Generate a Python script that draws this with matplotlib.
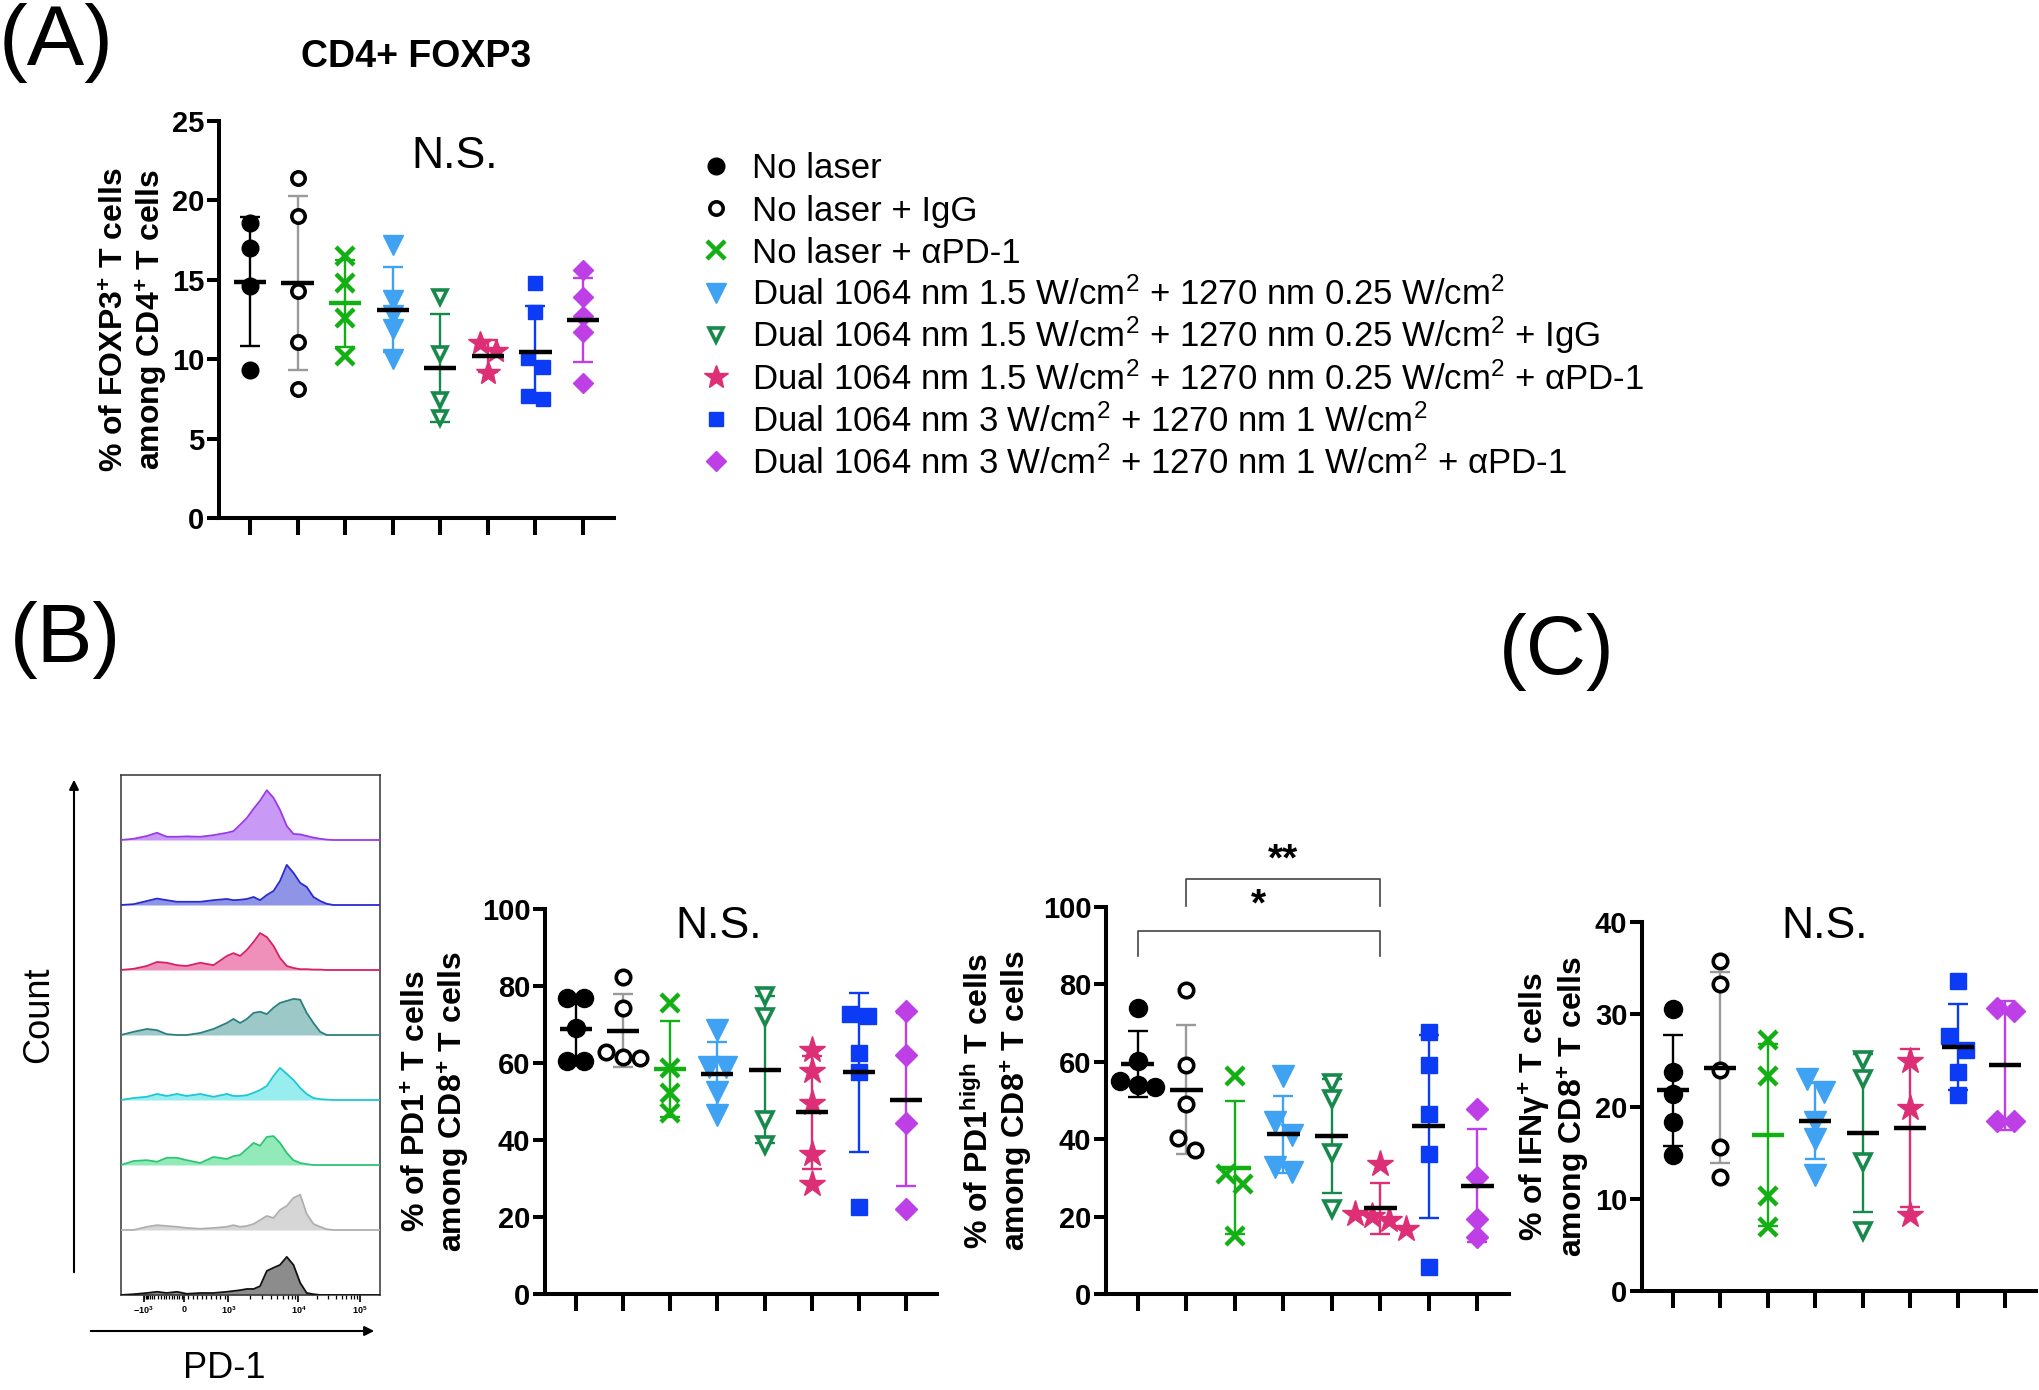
import numpy as np
import matplotlib.pyplot as plt
from matplotlib.lines import Line2D

plt.rcParams['font.family'] = ['Liberation Sans', 'DejaVu Sans']
plt.rcParams['mathtext.fontset'] = 'custom'
plt.rcParams['mathtext.rm'] = 'Liberation Sans'
plt.rcParams['mathtext.bf'] = 'Liberation Sans:bold'
plt.rcParams['mathtext.it'] = 'Liberation Sans:italic'
plt.rcParams['mathtext.default'] = 'regular'

W, H = 2040, 1390

# groups / styles
group_labels = [
    'No laser',
    'No laser + IgG',
    'No laser + αPD-1',
    'Dual 1064 nm 1.5 W/cm$^2$ + 1270 nm 0.25 W/cm$^2$',
    'Dual 1064 nm 1.5 W/cm$^2$ + 1270 nm 0.25 W/cm$^2$ + IgG',
    'Dual 1064 nm 1.5 W/cm$^2$ + 1270 nm 0.25 W/cm$^2$ + αPD-1',
    'Dual 1064 nm 3 W/cm$^2$ + 1270 nm 1 W/cm$^2$',
    'Dual 1064 nm 3 W/cm$^2$ + 1270 nm 1 W/cm$^2$ + αPD-1',
]
colors = ['#000000', '#000000', '#12B012', '#3FA2F2', '#17894B', '#DD2F75', '#0B3BF5', '#BE3FE6']
bar_colors = ['#000000', '#9A9A9A', '#12B012', '#3FA2F2', '#17894B', '#DD2F75', '#0B3BF5', '#BE3FE6']
mean_colors = ['#000000', '#000000', '#12B012', '#000000', '#000000', '#000000', '#000000', '#000000']
markers = ['o', 'o', 'x', 'v', 'v', '*', 's', 'D']
filled = [True, False, True, True, False, True, True, True]
ms_scale = [1.0, 0.8, 1.05, 1.2, 0.85, 1.5, 0.85, 0.85]

# (A) % FOXP3+ among CD4+
foxp3 = [
    [18.6, 17.0, 14.6, 9.3],
    [21.4, 19.0, 14.3, 11.1, 8.1],
    [16.5, 14.8, 12.6, 10.2],
    [17.2, 13.7, 12.8, 11.9, 10.0],
    [13.9, 10.3, 7.4, 6.3],
    [11.0, 10.5, 9.1],
    [14.8, 13.0, 10.1, 9.5, 7.7, 7.5],
    [15.6, 13.9, 12.7, 11.7, 8.5],
]
# (B) % PD1+ among CD8+
pd1 = [
    [77.0, 77.0, 69.0, 60.5, 60.5],
    [82.3, 74.2, 62.8, 61.5, 61.2],
    [75.6, 58.8, 52.3, 47.1],
    [68.5, 59.0, 59.0, 52.5, 46.5],
    [77.3, 72.0, 45.2, 38.7],
    [63.4, 57.9, 49.7, 36.3, 28.5],
    [72.6, 72.3, 62.7, 57.6, 22.5],
    [73.6, 62.1, 44.3, 22.0],
]
# (B) % PD1high among CD8+
pd1high = [
    [73.8, 60.3, 55.0, 54.0, 53.5],
    [78.6, 59.3, 49.0, 40.2, 37.1],
    [56.3, 30.9, 28.3, 15.1],
    [56.3, 44.5, 41.0, 32.8, 31.5],
    [54.5, 50.5, 36.5, 22.0],
    [33.7, 20.7, 20.2, 19.0, 16.9],
    [67.8, 59.1, 46.6, 36.1, 6.9],
    [47.7, 30.2, 19.4, 14.7],
]
# (C) % IFNg+ among CD8+
ifng = [
    [30.6, 23.7, 21.4, 18.3, 14.7],
    [35.8, 33.3, 24.0, 15.6, 12.4],
    [27.2, 23.3, 10.3, 6.9],
    [23.0, 21.6, 18.3, 16.5, 12.6],
    [25.0, 23.0, 14.0, 6.5],
    [24.9, 19.8, 8.2],
    [33.6, 27.6, 26.1, 23.7, 21.3],
    [30.7, 30.3, 18.4, 18.4],
]

# PD-1 histograms (top to bottom), x in % of plot width, heights in % of lane
hist_x = [0, 4.9, 10.0, 13.9, 17.7, 21.6, 25.4, 30.6, 35.7, 40.9, 43.4, 46.0, 48.6, 51.2,
          53.7, 56.3, 58.9, 61.4, 64.0, 66.6, 69.2, 71.7, 74.3, 76.9, 79.4, 82.0, 100]
hist_counts = [
    [0, 3, 10, 18, 8, 8, 9, 8, 12, 18, 22, 38, 55, 78, 98, 124, 105, 75, 35, 15, 14, 10, 6, 3, 1, 0, 0],
    [0, 2, 10, 16, 12, 8, 8, 8, 12, 15, 12, 13, 15, 20, 12, 25, 35, 60, 100, 80, 55, 45, 20, 10, 3, 0, 0],
    [0, 3, 10, 20, 18, 12, 10, 18, 12, 35, 42, 35, 50, 70, 92, 82, 60, 30, 10, 5, 2, 2, 1, 1, 0, 0, 0],
    [0, 8, 15, 12, 2, 0, 0, 5, 15, 30, 40, 30, 40, 55, 58, 52, 68, 80, 85, 90, 88, 55, 30, 8, 0, 0, 0],
    [0, 5, 8, 15, 10, 15, 10, 15, 8, 15, 10, 10, 12, 18, 25, 35, 60, 80, 65, 50, 30, 15, 5, 2, 1, 0, 0],
    [0, 10, 12, 8, 18, 18, 12, 5, 20, 15, 22, 25, 40, 55, 48, 70, 72, 55, 30, 12, 5, 2, 0, 0, 0, 0, 0],
    [0, 0, 8, 12, 10, 8, 5, 3, 5, 8, 12, 8, 10, 15, 25, 35, 30, 50, 60, 80, 88, 40, 15, 8, 2, 0, 0],
    [0, 2, 5, 8, 5, 8, 3, 5, 5, 8, 10, 12, 15, 15, 22, 60, 68, 75, 95, 75, 30, 5, 2, 0, 0, 0, 0],
]
hist_fill = ['#C89AF6', '#9094E6', '#EE90BA', '#9CC9C8', '#98EDEE', '#93EAB9', '#D6D6D6', '#8C8C8C']
hist_edge = ['#9A3AE6', '#2A2ACF', '#D62068', '#2A7F7F', '#1CC8D2', '#2EC474', '#AFAFAF', '#111111']
hist_tick_pos = [8.7, 24.4, 41.5, 68.5, 92.3]
hist_tick_lab = ['$-10^3$', '0', '$10^3$', '$10^4$', '$10^5$']


def fx(x):
    return x / W


def fy(y):
    return 1 - y / H


def marker_style(i, ms):
    return dict(marker=markers[i], ms=ms * ms_scale[i],
                mfc=colors[i] if filled[i] else 'white', mec=colors[i],
                mew=3.2 if markers[i] == 'x' else (2.6 if not filled[i] else 1))


def swarm(vals, ypx, xpx, dpx):
    order = np.argsort(-vals)
    offs = np.zeros(len(vals))
    rows = []
    for k in order:
        if rows and (vals[rows[-1][-1]] - vals[k]) * ypx < 0.8 * dpx:
            rows[-1].append(k)
        else:
            rows.append([k])
    for row in rows:
        n = len(row)
        for j, k in enumerate(row):
            offs[k] = (j - (n - 1) / 2) * 0.95 * dpx / xpx
    return offs


def dot_panel(ax, data, ymax, ystep, ms, ylabel, label_x):
    xlim = (-0.65, 7.65)
    pos = ax.get_position()
    ypx = pos.height * H / ymax
    xpx = pos.width * W / (xlim[1] - xlim[0])
    for i, vals in enumerate(data):
        vals = np.array(vals)
        m = vals.mean()
        sd = vals.std(ddof=1)
        ax.errorbar(i, m, yerr=sd, fmt='none', ecolor=bar_colors[i], elinewidth=1.7,
                    capsize=7.5, capthick=1.7, zorder=2, clip_on=False)
        offs = swarm(vals, ypx, xpx, ms * 100 / 72)
        ax.plot(i + offs, vals, linestyle='none', zorder=3, clip_on=False,
                **marker_style(i, ms))
        ax.plot([i - 0.34, i + 0.34], [m, m], color=mean_colors[i], lw=3.2,
                solid_capstyle='butt', zorder=4)
    ax.set_xlim(*xlim)
    ax.set_ylim(0, ymax)
    ax.set_xticks(range(8))
    ax.set_xticklabels([])
    ax.set_yticks(np.arange(0, ymax + 0.1, ystep))
    ax.spines[['top', 'right']].set_visible(False)
    for s in ['left', 'bottom']:
        ax.spines[s].set_linewidth(2.9)
    ax.tick_params(axis='x', length=12, width=2.9)
    ax.tick_params(axis='y', length=9, width=2.9, labelsize=21, pad=1.5)
    for lab in ax.get_yticklabels():
        lab.set_fontweight('bold')
    ax.text(label_x, 0.5, ylabel, transform=ax.transAxes, rotation=90, ha='center',
            va='center', fontsize=23, fontweight='bold', linespacing=1.12)


fig = plt.figure(figsize=(W / 100, H / 100), dpi=100)

# panel positions (pixels)
axA = fig.add_axes([fx(219), fy(518), (614 - 219) / W, (518 - 121) / H])
axB1 = fig.add_axes([fx(545), fy(1294), (937 - 545) / W, (1294 - 909) / H])
axB2 = fig.add_axes([fx(1106), fy(1294), (1509 - 1106) / W, (1294 - 907) / H])
axC = fig.add_axes([fx(1642), fy(1291), (2036 - 1642) / W, (1291 - 922) / H])
axH = fig.add_axes([fx(121), fy(1295), (380 - 121) / W, (1295 - 775) / H])

dot_panel(axA, foxp3, 25, 5, 12,
          '% of FOXP3$^{+}$ T cells\namong CD4$^{+}$ T cells', -0.212)
dot_panel(axB1, pd1, 100, 20, 13,
          '% of PD1$^{+}$ T cells\namong CD8$^{+}$ T cells', -0.275)
dot_panel(axB2, pd1high, 100, 20, 13,
          '% of PD1$^{high}$ T cells\namong CD8$^{+}$ T cells', -0.265)
dot_panel(axC, ifng, 40, 10, 13,
          '% of IFNγ$^{+}$ T cells\namong CD8$^{+}$ T cells', -0.222)

# significance brackets on PD1high
for (g1, g2, ytop, ybot, txt, ytxt) in [(1, 5, 107.3, 100.3, '**', 112.0), (0, 5, 93.9, 87.4, '*', 100.5)]:
    axB2.plot([g1, g1, g2, g2], [ybot, ytop, ytop, ybot], color='#444444', lw=1.2, clip_on=False)
    axB2.text((g1 + g2) / 2, ytxt, txt, ha='center', va='center', fontsize=28, fontweight='bold',
              clip_on=False)

# histogram stack
for k, counts in enumerate(hist_counts):
    base = 7 - k
    top = base + np.array(counts) / 162.0
    axH.fill_between(hist_x, base, top, color=hist_fill[k], lw=0, zorder=2)
    axH.plot(hist_x, top, color=hist_edge[k], lw=1.3, zorder=3)
axH.set_xlim(0, 100)
axH.set_ylim(0, 8)
axH.set_yticks([])
axH.set_xticks(hist_tick_pos)
axH.set_xticklabels(hist_tick_lab, fontsize=6.5, fontweight='bold')
minor = []
for d in range(2, 10):
    minor.append(41.5 + 27.0 * np.log10(d))
    minor.append(68.5 + 23.8 * np.log10(d))
    minor.append(8.7 - 8.0 * np.log10(d) + 8.0)
minor += list(np.linspace(15.5, 23.5, 9)) + list(np.linspace(26, 40, 9))
axH.set_xticks(minor, minor=True)
axH.tick_params(axis='x', which='major', length=5, width=1.2, pad=2)
axH.tick_params(axis='x', which='minor', length=3, width=0.9)
for s in axH.spines.values():
    s.set_linewidth(1.1)
    s.set_color('#333333')

# arrows + axis words for histogram
fig.add_artist(plt.Annotation('', xy=(fx(74), fy(777)), xytext=(fx(74), fy(1275)),
                              xycoords='figure fraction', textcoords='figure fraction',
                              arrowprops=dict(arrowstyle='-|>', color='black', lw=1.5,
                                              mutation_scale=14)))
fig.add_artist(plt.Annotation('', xy=(fx(377), fy(1331)), xytext=(fx(88), fy(1331)),
                              xycoords='figure fraction', textcoords='figure fraction',
                              arrowprops=dict(arrowstyle='-|>', color='black', lw=1.5,
                                              mutation_scale=14)))
fig.text(fx(39), fy(1015), 'Count', rotation=90, ha='center', va='center', fontsize=26)
fig.text(fx(224), fy(1369), 'PD-1', ha='center', va='center', fontsize=26)

# panel letters / titles / N.S.
fig.text(fx(56), fy(43), '(A)', ha='center', va='center', fontsize=62)
fig.text(fx(65), fy(640), '(B)', ha='center', va='center', fontsize=60)
fig.text(fx(1557), fy(652), '(C)', ha='center', va='center', fontsize=60)
fig.text(fx(416), fy(57), 'CD4+ FOXP3', ha='center', va='center', fontsize=27, fontweight='bold')
fig.text(fx(455), fy(156), 'N.S.', ha='center', va='center', fontsize=32)
fig.text(fx(719), fy(926), 'N.S.', ha='center', va='center', fontsize=32)
fig.text(fx(1825), fy(926), 'N.S.', ha='center', va='center', fontsize=32)

# legend (rows evenly spaced)
leg_y0, leg_dy, leg_fs = 166, 42.2, 25
cap_px = leg_fs * 100 / 72 * 0.716
for i, lab in enumerate(group_labels):
    y = leg_y0 + i * leg_dy
    fig.add_artist(Line2D([fx(716)], [fy(y)], transform=fig.transFigure, linestyle='none',
                          **marker_style(i, 12)))
    fig.text(fx(752), fy(y + cap_px / 2), lab, ha='left', va='baseline', fontsize=leg_fs)

fig.savefig('out.png', dpi=100)
